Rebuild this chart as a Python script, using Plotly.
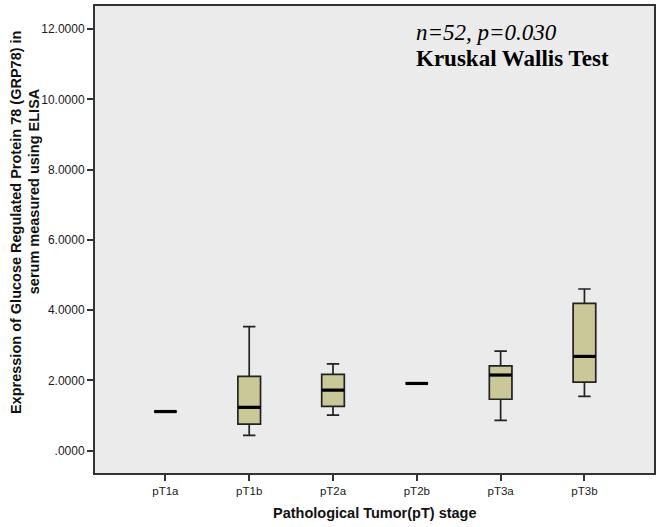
import plotly.graph_objects as go

categories = ["pT1a", "pT1b", "pT2a", "pT2b", "pT3a", "pT3b"]
lower_whisker = [1.11, 0.43, 1.01, 1.91, 0.86, 1.54]
q1_values = [1.11, 0.75, 1.26, 1.91, 1.46, 1.95]
median_values = [1.11, 1.23, 1.72, 1.91, 2.15, 2.68]
q3_values = [1.11, 2.11, 2.17, 1.91, 2.41, 4.19]
upper_whisker = [1.11, 3.53, 2.47, 1.91, 2.83, 4.60]

y_tick_values = [0, 2, 4, 6, 8, 10, 12]
y_tick_labels = [".0000", "2.0000", "4.0000", "6.0000", "8.0000", "10.0000", "12.0000"]

SANS = "Liberation Sans, Arial, sans-serif"
SERIF = "Liberation Serif, Times New Roman, serif"

fig = go.Figure()
fig.add_trace(go.Box(
    x=categories,
    q1=q1_values,
    median=median_values,
    q3=q3_values,
    lowerfence=lower_whisker,
    upperfence=upper_whisker,
    fillcolor="rgb(201,200,150)",
    line=dict(color="#222222", width=1.7),
    width=0.27,
    whiskerwidth=0.55,
    boxpoints=False,
    hoverinfo="skip",
    showlegend=False,
))
fig.add_trace(go.Scatter(
    x=categories,
    y=median_values,
    mode="markers",
    marker=dict(symbol="line-ew", size=16, line=dict(color="#000000", width=3.2)),
    hoverinfo="skip",
    showlegend=False,
))

fig.update_layout(
    width=660, height=527,
    margin=dict(l=95, r=6, t=4, b=54),
    paper_bgcolor="white",
    plot_bgcolor="rgb(235,235,235)",
    font=dict(family=SANS, color="#1a1a1a"),
    xaxis=dict(
        type="category",
        range=[-0.84, 5.83],
        showline=True, mirror=True, linecolor="#333333", linewidth=2,
        ticks="outside", ticklen=6, tickcolor="#333333", tickwidth=1.5,
        showgrid=False, zeroline=False,
        tickfont=dict(size=11.5, color="#1a1a1a"),
    ),
    yaxis=dict(
        range=[-0.64, 12.66],
        tickvals=y_tick_values, ticktext=y_tick_labels,
        showline=True, mirror=True, linecolor="#333333", linewidth=2,
        ticks="outside", ticklen=6, tickcolor="#333333", tickwidth=1.5,
        showgrid=False, zeroline=False,
        tickfont=dict(size=12, color="#1a1a1a"),
    ),
    annotations=[
        dict(text="<b>Pathological Tumor(pT) stage</b>", xref="paper", yref="paper",
             x=0.5, y=0, yshift=-40, yanchor="middle", showarrow=False,
             font=dict(size=14.5, family=SANS, color="#111111")),
        dict(text="<b>Expression of Glucose Regulated Protein 78 (GRP78) in</b>", xref="paper", yref="paper",
             x=0, xshift=-79, y=(473 - 221) / 469, yanchor="middle", xanchor="center",
             textangle=-90, showarrow=False,
             font=dict(size=14.5, family=SANS, color="#111111")),
        dict(text="<b>serum measured using ELISA</b>", xref="paper", yref="paper",
             x=0, xshift=-61, y=(473 - 190) / 469, yanchor="middle", xanchor="center",
             textangle=-90, showarrow=False,
             font=dict(size=14.5, family=SANS, color="#111111")),
        dict(text="<i>n=52, p=0.030</i>", xref="paper", yref="paper",
             x=(414 - 95) / 559, y=(473 - 31) / 469, xanchor="left", yanchor="middle",
             showarrow=False,
             font=dict(size=23, family=SERIF, color="#000000")),
        dict(text="<b>Kruskal Wallis Test</b>", xref="paper", yref="paper",
             x=(414 - 95) / 559, y=(473 - 57) / 469, xanchor="left", yanchor="middle",
             showarrow=False,
             font=dict(size=23, family=SERIF, color="#000000")),
    ],
)

fig.write_html(
    "out.html",
    config={"displayModeBar": False},
    post_script="document.body.style.margin='0';document.body.style.overflow='hidden';",
)
